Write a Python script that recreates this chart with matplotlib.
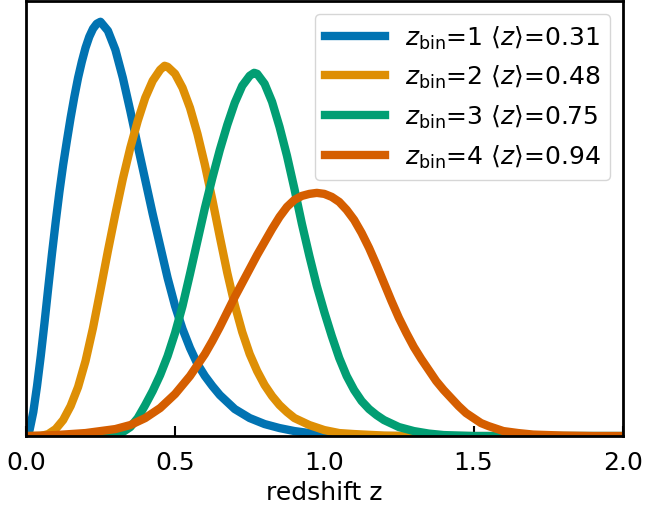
import numpy as np
import matplotlib
matplotlib.use("Agg")
import matplotlib.pyplot as plt

# n(z) per tomographic bin (arbitrary units)
z_bin1 = [0.0, 0.0125, 0.025, 0.0375, 0.05, 0.0625, 0.075, 0.0875, 0.10, 0.1125, 0.125,
          0.1375, 0.15, 0.1625, 0.175, 0.1875, 0.20, 0.2125, 0.225, 0.2375, 0.25, 0.275,
          0.30, 0.325, 0.35, 0.375, 0.40, 0.425, 0.45, 0.475, 0.50, 0.525, 0.55, 0.575,
          0.60, 0.625, 0.65, 0.675, 0.70, 0.75, 0.80, 0.85, 0.90, 0.95, 1.0, 1.1, 1.2, 2.0]
n_bin1 = [0, 6, 24, 50, 80, 113, 148, 182, 214, 244, 271,
          295, 318, 339, 358, 374, 388, 399, 407, 412, 414, 405,
          386, 358, 325, 290, 256, 222, 190, 158, 130, 107, 88, 72,
          60, 50, 41, 34, 27, 18, 12, 8, 5, 3, 2, 0.5, 0, 0]

z_bin2 = [0.0, 0.05, 0.075, 0.10, 0.125, 0.15, 0.175, 0.20, 0.225, 0.25, 0.275, 0.30,
          0.325, 0.35, 0.375, 0.40, 0.425, 0.45, 0.465, 0.475, 0.50, 0.525, 0.55, 0.575,
          0.60, 0.625, 0.65, 0.675, 0.70, 0.725, 0.75, 0.775, 0.80, 0.825, 0.85, 0.875,
          0.90, 0.95, 1.0, 1.05, 1.1, 1.2, 1.3, 2.0]
n_bin2 = [0, 0, 2, 7, 16, 30, 49, 75, 108, 146, 185, 222,
          257, 288, 315, 338, 355, 366, 370, 369, 362, 348, 328, 302,
          271, 236, 199, 163, 131, 104, 82, 65, 51, 40, 31, 24,
          18, 11, 6, 3, 2, 0.5, 0, 0]

z_bin3 = [0.0, 0.275, 0.30, 0.325, 0.35, 0.375, 0.40, 0.425, 0.45, 0.475, 0.50, 0.525,
          0.55, 0.575, 0.60, 0.625, 0.65, 0.675, 0.70, 0.725, 0.75, 0.765, 0.775, 0.80,
          0.825, 0.85, 0.875, 0.90, 0.925, 0.95, 0.975, 1.0, 1.025, 1.05, 1.075, 1.10,
          1.125, 1.15, 1.175, 1.20, 1.25, 1.30, 1.35, 1.40, 1.5, 2.0]
n_bin3 = [0, 0, 1, 4, 9, 18, 31, 45, 61, 80, 103, 130,
          162, 195, 228, 258, 286, 311, 333, 350, 360, 363, 362, 352,
          334, 309, 280, 247, 212, 180, 150, 124, 100, 78, 60, 46,
          35, 27, 21, 16, 9, 5, 2.5, 1, 0, 0]

z_bin4 = [0.0, 0.1, 0.2, 0.25, 0.30, 0.35, 0.40, 0.45, 0.50, 0.55, 0.60, 0.625, 0.65,
          0.675, 0.70, 0.725, 0.75, 0.775, 0.80, 0.825, 0.85, 0.875, 0.90, 0.925, 0.95,
          0.975, 1.0, 1.025, 1.05, 1.075, 1.10, 1.125, 1.15, 1.175, 1.20, 1.225, 1.25,
          1.275, 1.30, 1.325, 1.35, 1.375, 1.40, 1.425, 1.45, 1.475, 1.50, 1.525, 1.55,
          1.60, 1.65, 1.70, 1.8, 1.9, 2.0]
n_bin4 = [0, 1, 3, 5, 7, 11, 18, 28, 42, 60, 82, 95, 109,
          124, 139, 153, 167, 181, 194, 207, 219, 229, 236, 240, 242,
          243, 242, 239, 234, 226, 216, 203, 188, 171, 153, 135, 118,
          103, 89, 77, 66, 55, 46, 38, 30, 23, 18, 13, 10,
          5, 3, 1.5, 0.5, 0, 0]

mean_z = [0.31, 0.48, 0.75, 0.94]
colors = ['#0173b2', '#de8f05', '#029e73', '#d55e00']

fig = plt.figure(figsize=(6.46, 5.10), dpi=100)
ax = fig.add_axes([0.040, 0.143, 0.924, 0.853])

curves = [(z_bin1, n_bin1), (z_bin2, n_bin2), (z_bin3, n_bin3), (z_bin4, n_bin4)]
for i, (z, n) in enumerate(curves):
    ax.plot(z, n, color=colors[i], lw=6, solid_joinstyle='round',
            label=r'$z_{\rm bin}$=%d $\langle z\rangle$=%.2f' % (i + 1, mean_z[i]))

ax.set_xlim(0, 2.0)
ax.set_ylim(0, max(n_bin1) * 1.05)
ax.set_xticks([0.0, 0.5, 1.0, 1.5, 2.0])
ax.set_yticks([])
ax.tick_params(axis='x', direction='in', length=7, width=1.5, labelsize=18, pad=10)
for s in ax.spines.values():
    s.set_linewidth(2)
ax.set_xlabel('redshift z', fontsize=18)
ax.legend(loc='upper right', fontsize=18, handlelength=2.4)

fig.savefig('out.png', dpi=100)
